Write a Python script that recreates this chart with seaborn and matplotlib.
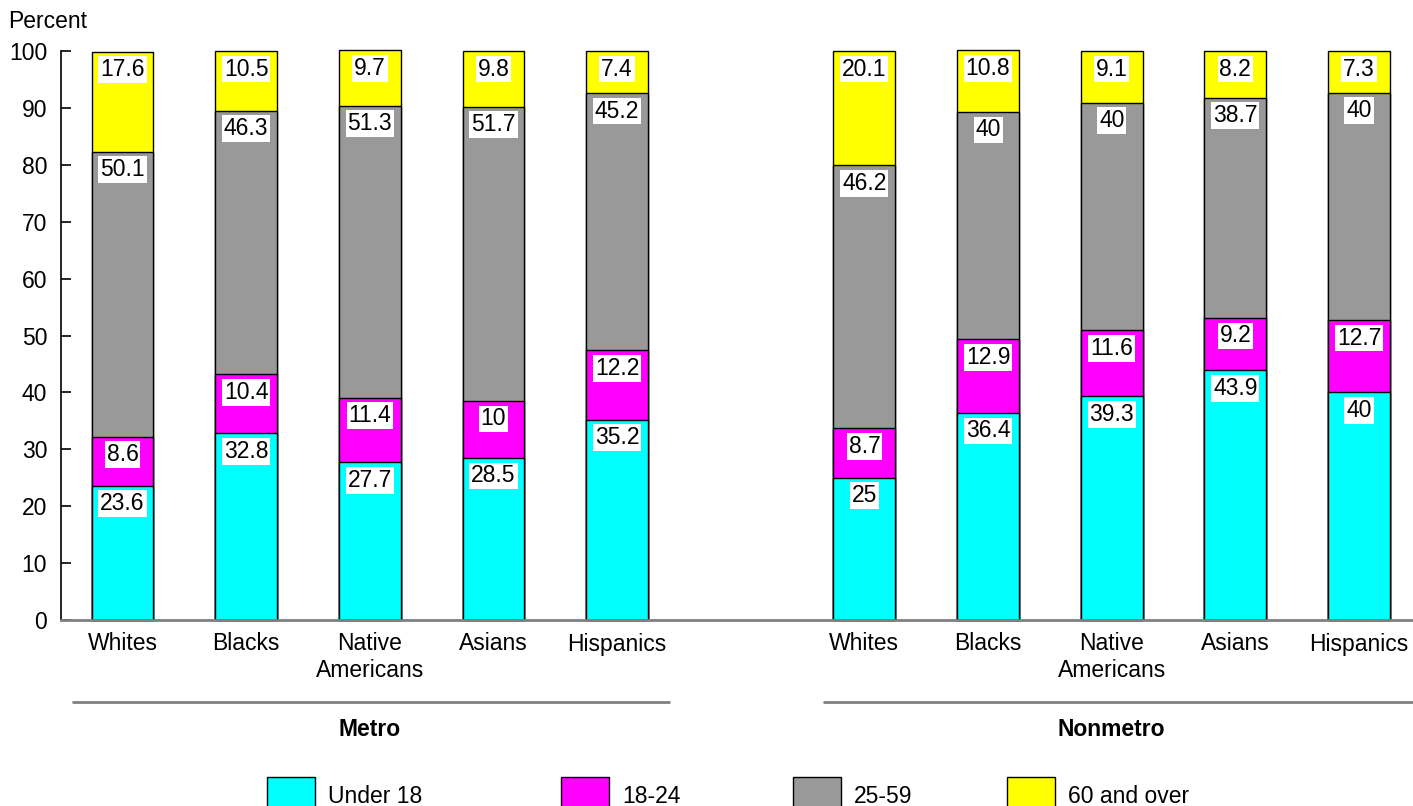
import matplotlib
matplotlib.use("Agg")
import matplotlib.pyplot as plt
import seaborn as sns
import pandas as pd
from matplotlib.patches import Rectangle
from matplotlib.lines import Line2D
import matplotlib.transforms as mtransforms

# ---------------- data ----------------
groups = ["Metro", "Nonmetro"]
races = ["Whites", "Blacks", "Native\nAmericans", "Asians", "Hispanics"]
segments = ["Under 18", "18-24", "25-59", "60 and over"]
under18 = [23.6, 32.8, 27.7, 28.5, 35.2, 25, 36.4, 39.3, 43.9, 40]
age18_24 = [8.6, 10.4, 11.4, 10, 12.2, 8.7, 12.9, 11.6, 9.2, 12.7]
age25_59 = [50.1, 46.3, 51.3, 51.7, 45.2, 46.2, 40, 40, 38.7, 40]
age60 = [17.6, 10.5, 9.7, 9.8, 7.4, 20.1, 10.8, 9.1, 8.2, 7.3]
yticks = list(range(0, 101, 10))

colors = {"Under 18": "#00FFFF", "18-24": "#FF00FF",
          "25-59": "#999999", "60 and over": "#FFFF00"}

# ---------------- build table ----------------
keys = [f"{g}|{r}" for g in groups for r in races]
order = keys[:5] + ["gap"] + keys[5:]
series = [under18, age18_24, age25_59, age60]
rows = []
for i, k in enumerate(keys):
    bottom = 0.0
    for s, vals in zip(segments, series):
        v = vals[i]
        rows.append({"key": k, "segment": s, "value": v,
                     "bottom": bottom, "top": bottom + v})
        bottom += v
df = pd.DataFrame(rows)

sns.set_theme(style="white")
plt.rcParams["font.family"] = ["Liberation Sans", "DejaVu Sans"]
plt.rcParams["text.color"] = "black"
plt.rcParams["xtick.color"] = "black"
plt.rcParams["ytick.color"] = "black"
plt.rcParams["xtick.labelcolor"] = "black"
plt.rcParams["ytick.labelcolor"] = "black"
FS = 16.5

W, H = 1413, 806
fig = plt.figure(figsize=(W / 100, H / 100), dpi=100)
ax = fig.add_axes([61 / W, 1 - 620 / H, (W - 61) / W, (620 - 51) / H])

# stacked bars: draw cumulative tops, tallest first
for s in reversed(segments):
    sub = df[df["segment"] == s]
    sns.barplot(data=sub, x="key", y="top", order=order, color=colors[s],
                saturation=1, width=0.5, edgecolor="black", linewidth=1,
                errorbar=None, ax=ax)
for p in ax.patches:
    p.set_clip_on(False)

# value labels
pos = {k: order.index(k) for k in keys}
for _, r in df.iterrows():
    ax.annotate(f"{r['value']:g}", xy=(pos[r["key"]], r["top"]),
                xytext=(0, -18), textcoords="offset pixels",
                ha="center", va="center", fontsize=FS, color="black",
                zorder=10, annotation_clip=False,
                bbox=dict(boxstyle="square,pad=0.08", fc="white", ec="none"))

# axes styling
ax.set_ylim(0, 100)
ax.set_xlim((61 - 122.5) / 123.65, (1413 - 122.5) / 123.65)
ax.set_yticks(yticks)
ax.set_yticklabels([str(t) for t in yticks], fontsize=FS)
ax.set_xticks(range(len(order)))
ax.set_xticklabels([("" if k == "gap" else k.split("|")[1]) for k in order],
                   fontsize=FS, linespacing=1.2)
ax.tick_params(axis="x", length=0, pad=9)
ax.tick_params(axis="y", direction="in", length=7, width=1.2,
               color="black", pad=10, left=True)
ax.set_xlabel("")
ax.set_ylabel("")
for sp in ["top", "right"]:
    ax.spines[sp].set_visible(False)
ax.spines["left"].set_color("black")
ax.spines["left"].set_linewidth(1.2)
ax.spines["bottom"].set_color("#808080")
ax.spines["bottom"].set_linewidth(2)
ax.grid(False)

# group lines and labels
trans = mtransforms.blended_transform_factory(ax.transData, ax.transAxes)
ly = (620 - 702) / (620 - 51)
ty = (620 - 729) / (620 - 51)
for x0, x1, xc, g in [(-0.40, 4.42, 2.0, "Metro"), (5.67, 10.44, 8.0, "Nonmetro")]:
    ax.add_line(Line2D([x0, x1], [ly, ly], transform=trans, color="#808080",
                       lw=2, clip_on=False))
    ax.text(xc, ty, g, transform=trans, ha="center", va="center",
            fontsize=FS, fontweight="bold", color="black")

fig.text(8 / W, 1 - 28 / H, "Percent", fontsize=FS, ha="left", va="baseline",
         color="black")

# legend (bottom row, partly cut off as in the reference)
leg_x = [267, 561, 793, 1007]
for x, s in zip(leg_x, segments):
    fig.add_artist(Rectangle((x / W, 1 - 812 / H), 48 / W, 35 / H,
                             transform=fig.transFigure, fc=colors[s],
                             ec="black", lw=1, clip_on=False))
    fig.text((x + 61) / W, 1 - 803 / H, s, fontsize=FS, ha="left",
             va="baseline", color="black")

fig.savefig("out.png", dpi=100)
